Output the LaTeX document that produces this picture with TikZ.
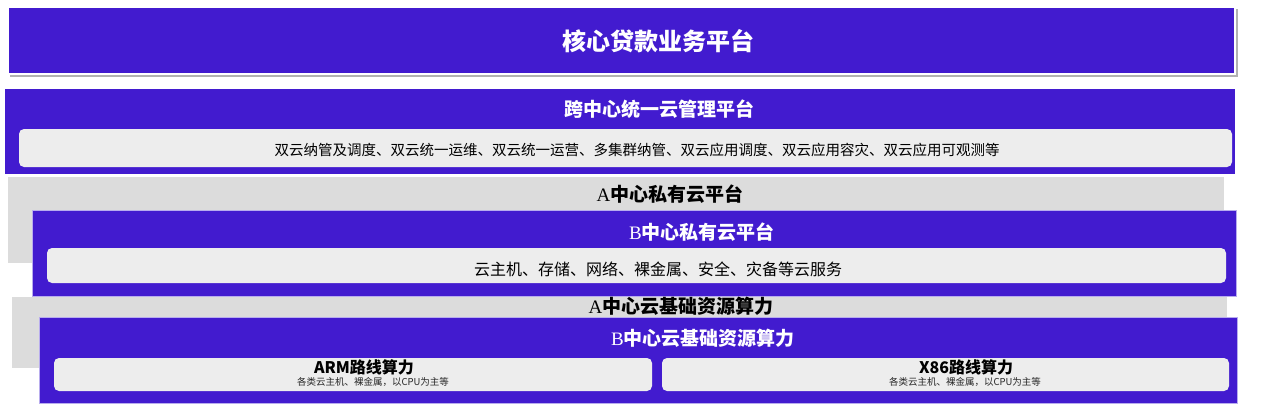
\documentclass[tikz,border=0pt]{standalone}
\usepackage{fontspec}
\newfontfamily\cjk{Noto Sans CJK SC}
\newfontfamily\abfont{Liberation Serif}
\definecolor{platblue}{RGB}{66,27,207}
\definecolor{panelgray}{RGB}{220,220,220}
\definecolor{cellgray}{RGB}{237,237,237}
\definecolor{rimblue}{RGB}{184,172,238}
\begin{document}
\begin{tikzpicture}[x=1pt,y=-1pt,
	bluebox/.style={fill=platblue},
	rimbox/.style={fill=platblue,draw=rimblue,line width=1pt},
	grayback/.style={fill=panelgray},
	cell/.style={fill=cellgray,rounded corners=5pt},
	whitetitle/.style={text=white,font=\cjk\bfseries\fontsize{19}{22}\selectfont,inner sep=0pt},
	blacktitle/.style={text=black,font=\cjk\bfseries\fontsize{19}{22}\selectfont,inner sep=0pt},
	celltext/.style={text=black,font=\cjk\fontsize{14.5}{17}\selectfont,inner sep=0pt},
	routetext/.style={text=black,font=\cjk\bfseries\fontsize{16}{18}\selectfont,inner sep=0pt},
	subtext/.style={text=black!85,font=\cjk\fontsize{9.5}{11}\selectfont,inner sep=0pt}]
	\useasboundingbox (0,0) rectangle (1272,405);
	% business platform on top
	\fill[black!30] (10,9) rectangle (1238,77);
	\path[bluebox,draw=white,line width=1.5pt] (8,7) rectangle (1235,74);
	\node[whitetitle,font=\cjk\bfseries\fontsize{24}{28}\selectfont] (coretitle) at (658,41) {核心贷款业务平台};
	% cross-center management
	\path[bluebox] (5,89) rectangle (1235,174);
	\node[whitetitle] (mgmttitle) at (659,109) {跨中心统一云管理平台};
	\path[cell] (19,129) rectangle (1232,167);
	\node[celltext] (mgmtcell) at (637,150) {双云纳管及调度、双云统一运维、双云统一运营、多集群纳管、双云应用调度、双云应用容灾、双云应用可观测等};
	% private cloud, A behind B
	\path[grayback] (8,177) rectangle (1224,263);
	\node[blacktitle] (acloud) at (670,194) {{\abfont\mdseries A}中心私有云平台};
	\path[rimbox] (32,210) rectangle (1236,296);
	\node[whitetitle] (bcloud) at (702,232) {{\abfont\mdseries B}中心私有云平台};
	\path[cell] (47,248) rectangle (1226,283);
	\node[celltext,font=\cjk\fontsize{16}{18}\selectfont] (cloudcell) at (658,269) {云主机、存储、网络、裸金属、安全、灾备等云服务};
	% base compute, A behind B
	\path[grayback] (12,297) rectangle (1227,368);
	\node[blacktitle] (abase) at (681,306) {{\abfont\mdseries A}中心云基础资源算力};
	\path[rimbox] (39,317) rectangle (1237,403);
	\node[whitetitle] (bbase) at (703,338) {{\abfont\mdseries B}中心云基础资源算力};
	\path[cell] (54,358) rectangle (652,391);
	\node[routetext] (arm) at (364,367) {ARM路线算力};
	\node[subtext] (armsub) at (373,382) {各类云主机、裸金属，以CPU为主等};
	\path[cell] (662,358) rectangle (1229,391);
	\node[routetext] (x86) at (966,367) {X86路线算力};
	\node[subtext] (x86sub) at (965,382) {各类云主机、裸金属，以CPU为主等};
\end{tikzpicture}
\end{document}
